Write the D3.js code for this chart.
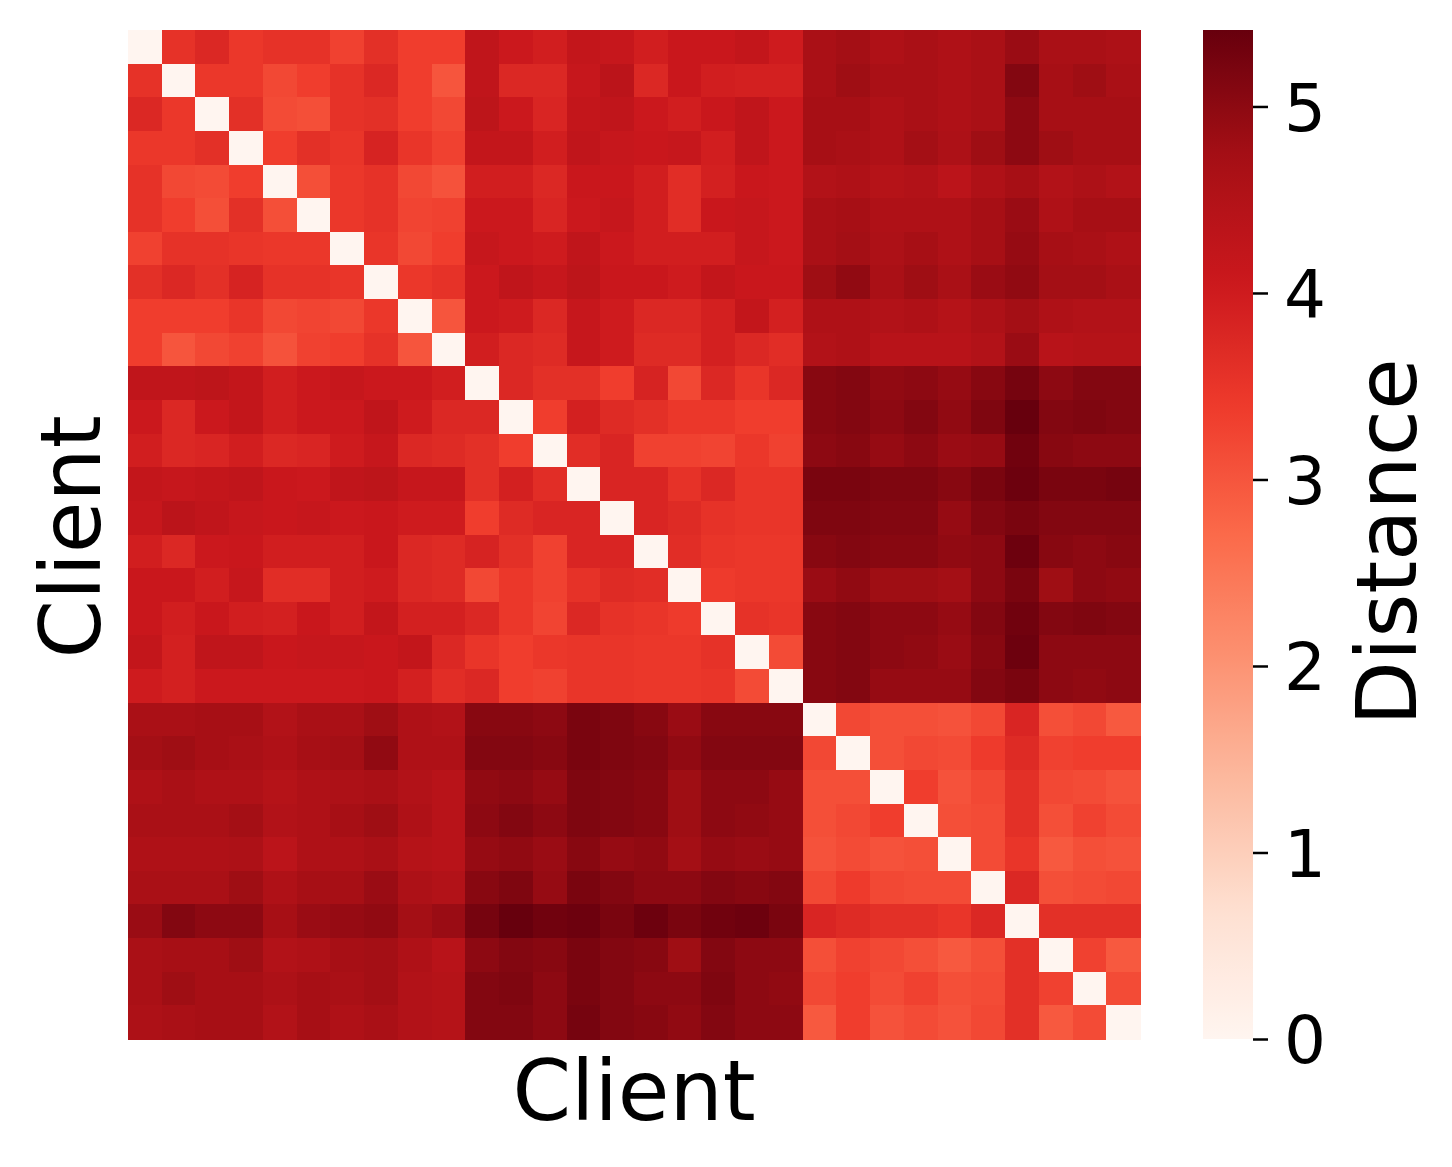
<!DOCTYPE html>
<html>
<head>
<meta charset="utf-8">
<script src="https://cdn.jsdelivr.net/npm/d3@7"></script>
<style>
  body { margin: 0; background: #fff; }
  text { font-family: "DejaVu Sans", sans-serif; fill: #000; }
</style>
</head>
<body>
<div id="container"></div>
<script>
// lower triangle of the client distance matrix (row i holds columns 0..i-1)
var lower = [
  [],
  [3.55],
  [3.75, 3.45],
  [3.45, 3.45, 3.6],
  [3.55, 3.2, 3.15, 3.35],
  [3.55, 3.35, 3.1, 3.6, 3.1],
  [3.3, 3.55, 3.55, 3.5, 3.45, 3.45],
  [3.6, 3.75, 3.6, 3.85, 3.55, 3.55, 3.5],
  [3.35, 3.35, 3.35, 3.5, 3.2, 3.25, 3.2, 3.45],
  [3.35, 3.0, 3.2, 3.3, 3.05, 3.3, 3.35, 3.55, 3.0],
  [4.25, 4.25, 4.3, 4.2, 3.95, 4.05, 4.15, 4.05, 4.05, 3.95],
  [4.05, 3.75, 4.05, 4.2, 3.95, 4.05, 4.05, 4.25, 4.0, 3.75, 3.75],
  [3.95, 3.75, 3.8, 3.95, 3.75, 3.8, 4.0, 4.15, 3.75, 3.7, 3.6, 3.35],
  [4.2, 4.15, 4.2, 4.25, 4.1, 4.05, 4.25, 4.3, 4.15, 4.15, 3.6, 3.9, 3.65],
  [4.15, 4.35, 4.25, 4.15, 4.1, 4.15, 4.05, 4.1, 4.0, 4.0, 3.35, 3.7, 3.8, 3.8],
  [3.95, 3.75, 4.05, 4.1, 3.95, 3.95, 3.95, 4.1, 3.75, 3.7, 3.85, 3.6, 3.3, 3.8, 3.8],
  [4.1, 4.1, 3.95, 4.15, 3.65, 3.65, 3.95, 4.0, 3.75, 3.7, 3.2, 3.45, 3.3, 3.55, 3.7, 3.65],
  [4.1, 3.95, 4.1, 3.95, 3.9, 4.1, 3.95, 4.2, 3.9, 3.9, 3.75, 3.45, 3.25, 3.75, 3.55, 3.5, 3.4],
  [4.2, 3.9, 4.25, 4.25, 4.1, 4.15, 4.15, 4.1, 4.2, 3.75, 3.5, 3.35, 3.45, 3.5, 3.5, 3.45, 3.45, 3.55],
  [4.0, 3.9, 4.05, 4.05, 4.05, 4.05, 4.05, 4.1, 3.9, 3.65, 3.75, 3.35, 3.3, 3.5, 3.5, 3.45, 3.45, 3.5, 3.15],
  [4.65, 4.65, 4.7, 4.7, 4.5, 4.65, 4.65, 4.8, 4.55, 4.5, 5.05, 5.05, 5.0, 5.2, 5.15, 5.05, 4.85, 5.05, 5.05, 5.05],
  [4.75, 4.8, 4.7, 4.65, 4.55, 4.7, 4.75, 4.95, 4.55, 4.55, 5.1, 5.1, 5.05, 5.2, 5.15, 5.1, 4.95, 5.1, 5.1, 5.1, 3.2],
  [4.55, 4.65, 4.55, 4.55, 4.45, 4.55, 4.6, 4.65, 4.5, 4.4, 4.95, 5.0, 4.9, 5.15, 5.1, 5.05, 4.8, 5.0, 5.0, 4.9, 3.1, 3.1],
  [4.65, 4.65, 4.65, 4.75, 4.5, 4.55, 4.7, 4.8, 4.55, 4.4, 5.0, 5.1, 5.0, 5.15, 5.1, 5.05, 4.8, 5.0, 4.95, 4.9, 3.1, 3.2, 3.35],
  [4.55, 4.55, 4.55, 4.6, 4.35, 4.55, 4.55, 4.65, 4.45, 4.4, 4.9, 4.95, 4.85, 5.05, 4.9, 4.95, 4.75, 4.9, 4.85, 4.9, 3.05, 3.15, 3.05, 3.1],
  [4.65, 4.65, 4.65, 4.8, 4.55, 4.7, 4.7, 4.85, 4.6, 4.5, 5.05, 5.15, 4.9, 5.2, 5.1, 5.0, 5.0, 5.1, 5.05, 5.1, 3.2, 3.4, 3.2, 3.15, 3.15],
  [4.85, 5.1, 5.0, 5.0, 4.7, 4.85, 4.9, 4.95, 4.75, 4.85, 5.25, 5.41, 5.3, 5.35, 5.2, 5.35, 5.2, 5.3, 5.35, 5.2, 3.8, 3.7, 3.6, 3.6, 3.5, 3.75],
  [4.65, 4.7, 4.7, 4.8, 4.5, 4.55, 4.7, 4.75, 4.55, 4.4, 5.0, 5.1, 5.05, 5.2, 5.1, 5.05, 4.8, 5.1, 5.0, 5.0, 3.1, 3.3, 3.2, 3.1, 2.95, 3.1, 3.6],
  [4.65, 4.8, 4.7, 4.7, 4.6, 4.7, 4.65, 4.75, 4.5, 4.45, 5.1, 5.15, 5.0, 5.2, 5.1, 5.0, 5.0, 5.15, 5.0, 4.95, 3.2, 3.35, 3.15, 3.3, 3.1, 3.15, 3.6, 3.3],
  [4.6, 4.65, 4.7, 4.7, 4.5, 4.7, 4.55, 4.65, 4.5, 4.45, 5.1, 5.1, 5.0, 5.25, 5.1, 5.05, 4.95, 5.1, 5.0, 5.0, 2.95, 3.35, 3.05, 3.15, 3.05, 3.2, 3.6, 2.95, 3.15]
];
var clients = d3.range(lower.length);
var cbarTicks = [0, 1, 2, 3, 4, 5];
var redsColors = ["#fff5f0", "#fee0d2", "#fcbba1", "#fc9272", "#fb6a4a", "#ef3b2c", "#cb181d", "#a50f15", "#67000d"];

// distance matrix is symmetric, fill the upper half from the lower one
var cells = [];
clients.forEach(function(i) {
  clients.forEach(function(j) {
    var v = i == j ? 0 : (j < i ? lower[i][j] : lower[j][i]);
    cells.push({ row: i, col: j, value: v });
  });
});
var vmax = d3.max(cells, function(d) { return d.value; });

var width = 1452, height = 1167;
var svg = d3.select("#container")
  .append("svg")
  .attr("width", width)
  .attr("height", height);

var x = d3.scaleBand().domain(clients).range([128, 1140]);
var y = d3.scaleBand().domain(clients).range([30, 1039]);

// matplotlib style Reds: linear between the 9 anchor colours
var color = d3.scaleLinear()
  .domain(redsColors.map(function(c, i) { return vmax * i / (redsColors.length - 1); }))
  .range(redsColors)
  .interpolate(d3.interpolateRgb);

svg.append("g")
  .attr("shape-rendering", "crispEdges")
  .selectAll("rect")
  .data(cells)
  .enter()
  .append("rect")
  .attr("x", function(d) { return x(d.col); })
  .attr("y", function(d) { return y(d.row); })
  .attr("width", x.bandwidth() + 0.5)
  .attr("height", y.bandwidth() + 0.5)
  .style("fill", function(d) { return color(d.value); });

// axis titles
svg.append("text")
  .attr("x", 634)
  .attr("y", 1120)
  .attr("text-anchor", "middle")
  .style("font-size", "84px")
  .text("Client");

svg.append("text")
  .attr("transform", "translate(100,537) rotate(-90)")
  .attr("text-anchor", "middle")
  .style("font-size", "84px")
  .text("Client");

// colour bar
var cb = { x: 1203, w: 50, top: 30, bottom: 1039 };
var cy = d3.scaleLinear().domain([0, vmax]).range([cb.bottom, cb.top]);

var grad = svg.append("defs").append("linearGradient")
  .attr("id", "cbar")
  .attr("x1", 0).attr("y1", 1).attr("x2", 0).attr("y2", 0);
grad.selectAll("stop")
  .data(d3.range(0, 1.0001, 0.02))
  .enter()
  .append("stop")
  .attr("offset", function(t) { return t; })
  .attr("stop-color", function(t) { return color(t * vmax); });

svg.append("rect")
  .attr("x", cb.x)
  .attr("y", cb.top)
  .attr("width", cb.w)
  .attr("height", cb.bottom - cb.top)
  .style("fill", "url(#cbar)");

var axis = d3.axisRight(cy)
  .tickValues(cbarTicks)
  .tickSize(15)
  .tickPadding(16)
  .tickFormat(d3.format("d"));

var ag = svg.append("g")
  .attr("transform", "translate(" + (cb.x + cb.w) + ",0)")
  .call(axis);
ag.select(".domain").remove();
ag.selectAll(".tick line").attr("stroke", "#000").attr("stroke-width", 2.5);
ag.selectAll(".tick text")
  .style("font-size", "66px")
  .style("font-family", "DejaVu Sans, sans-serif")
  .attr("dy", "0.36em");

svg.append("text")
  .attr("transform", "translate(1416,542) rotate(-90)")
  .attr("text-anchor", "middle")
  .style("font-size", "84px")
  .text("Distance");
</script>
</body>
</html>
